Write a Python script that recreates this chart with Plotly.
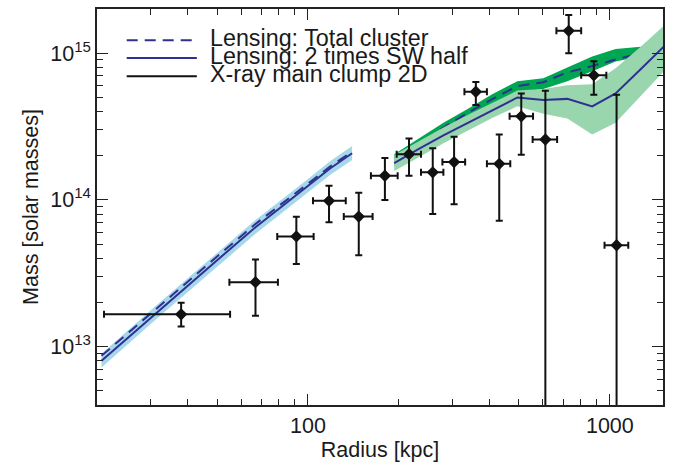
import plotly.graph_objects as go

# ---------------- data ----------------
# Lensing, inner region
r_inner = [20.7, 31, 50, 67, 100, 118, 140]
m_total_inner = [8.65e12, 1.78e13, 4.12e13, 6.85e13, 1.29e14, 1.68e14, 2.13e14]
m_sw_inner = [8.0e12, 1.66e13, 3.88e13, 6.51e13, 1.24e14, 1.63e14, 2.08e14]
m_sw_inner_hi = [8.95e12, 1.86e13, 4.35e13, 7.3e13, 1.39e14, 1.83e14, 2.33e14]
m_sw_inner_lo = [7.2e12, 1.50e13, 3.5e13, 5.87e13, 1.12e14, 1.47e14, 1.87e14]

# Lensing, outer region
r_outer = [193, 233, 281, 339, 409, 494, 602, 723, 874, 1045, 1265, 1520]
m_sw_outer = [1.78e14, 2.23e14, 2.75e14, 3.36e14, 4.11e14, 4.99e14, 4.80e14, 4.88e14,
              4.34e14, 5.31e14, 7.76e14, 1.125e15]
m_sw_outer_hi = [2.02e14, 2.51e14, 3.11e14, 3.80e14, 4.58e14, 5.56e14, 5.69e14, 6.05e14,
                 6.15e14, 7.88e14, 1.108e15, 1.557e15]
m_sw_outer_lo = [1.574e14, 1.955e14, 2.43e14, 2.97e14, 3.63e14, 4.34e14, 3.87e14, 3.58e14,
                 2.79e14, 3.36e14, 5.11e14, 7.64e14]
r_total_outer = [193, 233, 281, 339, 409, 494, 602, 723, 874, 1045, 1265]
m_total_outer = [1.925e14, 2.39e14, 3.11e14, 3.93e14, 4.88e14, 5.96e14, 6.34e14, 7.40e14,
                 8.17e14, 9.06e14, 9.94e14]
m_total_outer_hi = [2.05e14, 2.62e14, 3.36e14, 4.18e14, 5.27e14, 6.44e14, 6.75e14, 8.00e14,
                    9.49e14, 1.066e15, 1.108e15]
m_total_outer_lo = [1.70e14, 2.18e14, 2.75e14, 3.47e14, 4.37e14, 5.43e14, 5.69e14, 6.44e14,
                    7.52e14, 8.78e14, 9.5e14]

# X-ray main clump 2D
r_xray = [38.0, 67.0, 91.5, 117.4, 147.3, 179.8, 216.1, 259.0, 304.8, 359.8, 430.1, 508.8,
          611.5, 730.8, 884.9, 1052.6]
r_xray_lo = [21.1, 54.9, 79.1, 103.9, 131.4, 161.6, 196.7, 236.8, 278.8, 329.8, 391.5, 465.4,
             554.9, 665.3, 803.5, 960.2]
r_xray_hi = [55.2, 79.5, 104.4, 133.4, 163.7, 198.2, 236.8, 280.9, 331.6, 391.5, 467.9, 556.6,
             668.8, 803.5, 973.6, 1151]
m_xray = [1.66e13, 2.75e13, 5.64e13, 9.85e13, 7.69e13, 1.46e14, 2.05e14, 1.54e14, 1.81e14,
          5.46e14, 1.76e14, 3.71e14, 2.58e14, 1.42e15, 7.06e14, 4.91e13]
m_xray_hi = [1.99e13, 3.93e13, 7.68e13, 1.25e14, 1.12e14, 1.93e14, 2.62e14, 2.25e14, 2.69e14,
             6.37e14, 2.79e14, 5.32e14, 5.54e14, 1.82e15, 8.82e14, 5.21e14]
m_xray_lo = [1.37e13, 1.62e13, 3.65e13, 7.03e13, 4.2e13, 1.0e14, 1.46e14, 8.0e13, 9.34e13,
             4.44e14, 7.22e13, 2.03e14, 1e12, 1.0e15, 5.21e14, 1e12]

legend_labels = ["Lensing: Total cluster", "Lensing: 2 times SW half", "X-ray main clump 2D"]

x_tick_vals = [100, 1000]
x_tick_text = ["100", "1000"]
y_tick_vals = [1e13, 1e14, 1e15]
y_tick_text = ["10<sup>13</sup>", "10<sup>14</sup>", "10<sup>15</sup>"]
x_minor_vals = [30, 40, 50, 60, 70, 80, 90, 200, 300, 400, 500, 600, 700, 800, 900]
y_minor_vals = [5e12, 6e12, 7e12, 8e12, 9e12, 2e13, 3e13, 4e13, 5e13, 6e13, 7e13, 8e13, 9e13,
                2e14, 3e14, 4e14, 5e14, 6e14, 7e14, 8e14, 9e14]

# ---------------- style ----------------
NAVY = "#2e3192"
LIGHT_BLUE = "#a6d8ea"
DARK_GREEN = "#00a651"
LIGHT_GREEN = "#99d5ad"
INK = "#1a1a1a"
FONT = "Liberation Sans, Arial, sans-serif"
DASH = "11px,7px"
X_RANGE = [1.30103, 3.17609]
Y_RANGE = [12.602, 15.301]

fig = go.Figure()

# inner band + curves
fig.add_trace(go.Scatter(x=r_inner + r_inner[::-1], y=m_sw_inner_hi + m_sw_inner_lo[::-1],
                         fill="toself", fillcolor=LIGHT_BLUE, line=dict(width=0),
                         mode="lines", hoverinfo="skip", showlegend=False))
fig.add_trace(go.Scatter(x=r_inner, y=m_total_inner, mode="lines",
                         line=dict(color=NAVY, width=2, dash=DASH), showlegend=False))
fig.add_trace(go.Scatter(x=r_inner, y=m_sw_inner, mode="lines",
                         line=dict(color=NAVY, width=2), showlegend=False))

# outer: total cluster band + dashed, then SW band + solid
fig.add_trace(go.Scatter(x=r_total_outer + r_total_outer[::-1],
                         y=m_total_outer_hi + m_total_outer_lo[::-1],
                         fill="toself", fillcolor=DARK_GREEN, line=dict(width=0),
                         mode="lines", hoverinfo="skip", showlegend=False))
fig.add_trace(go.Scatter(x=r_total_outer, y=m_total_outer, mode="lines",
                         line=dict(color=NAVY, width=2, dash=DASH), showlegend=False))
fig.add_trace(go.Scatter(x=r_outer + r_outer[::-1], y=m_sw_outer_hi + m_sw_outer_lo[::-1],
                         fill="toself", fillcolor=LIGHT_GREEN, line=dict(width=0),
                         mode="lines", hoverinfo="skip", showlegend=False))
fig.add_trace(go.Scatter(x=r_outer, y=m_sw_outer, mode="lines",
                         line=dict(color=NAVY, width=2), showlegend=False))

# X-ray points
fig.add_trace(go.Scatter(
    x=r_xray, y=m_xray, mode="markers",
    marker=dict(symbol="diamond", size=9.5, color="#111111"),
    error_x=dict(type="data", symmetric=False,
                 array=[h - v for h, v in zip(r_xray_hi, r_xray)],
                 arrayminus=[v - l for v, l in zip(r_xray, r_xray_lo)],
                 color="#111111", thickness=2, width=3.5),
    error_y=dict(type="data", symmetric=False,
                 array=[h - v for h, v in zip(m_xray_hi, m_xray)],
                 arrayminus=[v - l for v, l in zip(m_xray, m_xray_lo)],
                 color="#111111", thickness=2, width=3.5),
    showlegend=False))

# empty trace to carry the mirrored (top/right) tick axes
fig.add_trace(go.Scatter(x=[None], y=[None], xaxis="x2", yaxis="y2", mode="markers",
                         showlegend=False, hoverinfo="skip"))

# manual legend (tight line spacing as in the reference)
leg_y = [0.921, 0.876, 0.830]
leg_styles = [dict(color=NAVY, width=2, dash=DASH), dict(color=NAVY, width=2),
              dict(color="#111111", width=2)]
for yy, st, lab in zip(leg_y, leg_styles, legend_labels):
    fig.add_shape(type="line", xref="paper", yref="paper", x0=0.0525, x1=0.1764,
                  y0=yy, y1=yy, line=st)
    fig.add_annotation(xref="paper", yref="paper", x=0.1958, y=yy + 0.005, text=lab,
                       showarrow=False, xanchor="left", yanchor="middle",
                       font=dict(family=FONT, size=23.3, color=INK))

axis_common = dict(type="log", showgrid=False, zeroline=False, showline=True,
                   linecolor="#222222", linewidth=1.5,
                   ticks="inside", ticklen=11, tickwidth=1.3, tickcolor="#222222",
                   tickfont=dict(family=FONT, size=21.5, color=INK))
minor_x = dict(tickmode="array", tickvals=x_minor_vals, ticks="inside",
               ticklen=6, tickwidth=1.3, tickcolor="#222222", showgrid=False)
minor_y = dict(tickmode="array", tickvals=y_minor_vals, ticks="inside",
               ticklen=6, tickwidth=1.3, tickcolor="#222222", showgrid=False)

fig.update_layout(
    width=673, height=466, margin=dict(l=97, r=10, t=9, b=57),
    paper_bgcolor="white", plot_bgcolor="white",
    font=dict(family=FONT, color=INK), showlegend=False,
    xaxis=dict(**axis_common, range=X_RANGE, tickmode="array",
               tickvals=x_tick_vals, ticktext=x_tick_text, minor=minor_x,
               title=dict(text="Radius [kpc]", standoff=4,
                          font=dict(family=FONT, size=21.5, color=INK))),
    yaxis=dict(**axis_common, range=Y_RANGE, tickmode="array",
               tickvals=y_tick_vals, ticktext=y_tick_text, minor=minor_y,
               title=dict(text="Mass [solar masses]", standoff=6,
                          font=dict(family=FONT, size=21.5, color=INK))),
    xaxis2=dict(**axis_common, range=X_RANGE, overlaying="x", side="top", anchor="y2",
                tickmode="array", tickvals=x_tick_vals, showticklabels=False,
                minor=minor_x),
    yaxis2=dict(**axis_common, range=Y_RANGE, overlaying="y", side="right", anchor="x2",
                tickmode="array", tickvals=y_tick_vals, showticklabels=False,
                minor=minor_y),
)

fig.write_html("out.html")
